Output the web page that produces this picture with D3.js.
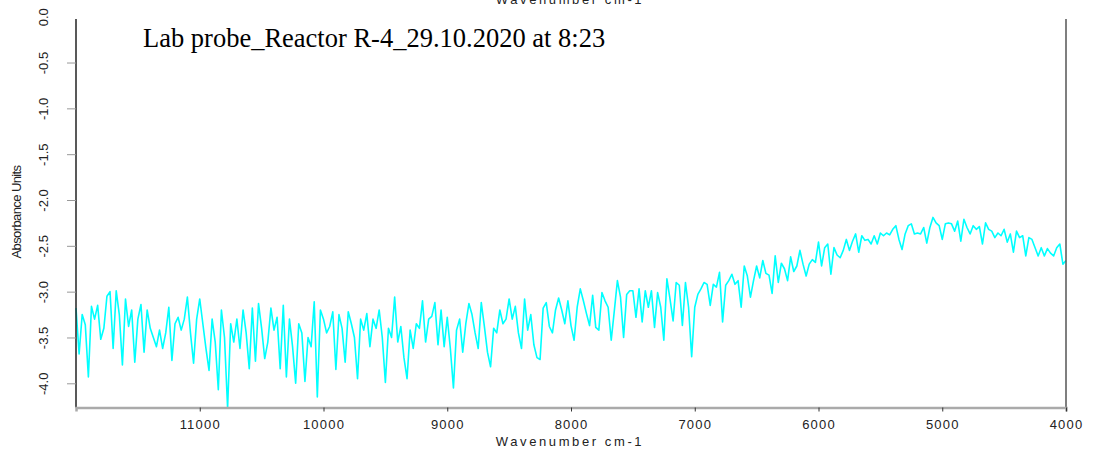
<!DOCTYPE html>
<html>
<head>
<meta charset="utf-8">
<script src="https://cdn.jsdelivr.net/npm/d3@7"></script>
<style>
  body { margin: 0; background: #fff; }
</style>
</head>
<body>
<div id="chart"></div>
<script>
const width = 1093,
  height = 450,
  margin = { left: 76, right: 27, top: 19, bottom: 42 };

// spectrum sampled every 25 cm-1, from 12000 down to 4000
const waveStart = 12000;
const waveStep = 25;
const absorbance = [
  -3.18, -3.68, -3.25, -3.36, -3.93, -3.16, -3.3, -3.15, -3.52, -3.4, -3.05, -3.0, -3.62, -2.99, -3.25, -3.8, -3.08, -3.38, -3.2, -3.77,
  -3.3, -3.14, -3.66, -3.2, -3.4, -3.5, -3.6, -3.42, -3.62, -3.45, -3.17, -3.75, -3.35, -3.28, -3.42, -3.3, -3.06, -3.45, -3.78, -3.3,
  -3.08, -3.35, -3.62, -3.86, -3.3, -3.55, -4.07, -3.2, -3.5, -4.27, -3.35, -3.55, -3.3, -3.62, -3.2, -3.45, -3.84, -3.18, -3.76, -3.13,
  -3.4, -3.73, -3.55, -3.18, -3.42, -3.28, -3.84, -3.15, -3.93, -3.3, -3.6, -4.0, -3.35, -3.45, -3.98, -3.5, -3.6, -3.11, -4.15, -3.2,
  -3.3, -3.45, -3.38, -3.22, -3.85, -3.25, -3.4, -3.77, -3.22, -3.35, -3.5, -3.95, -3.3, -3.42, -3.24, -3.6, -3.3, -3.4, -3.2, -3.5,
  -3.99, -3.4, -3.5, -3.06, -3.55, -3.38, -3.72, -3.95, -3.42, -3.62, -3.35, -3.4, -3.1, -3.55, -3.3, -3.27, -3.12, -3.58, -3.2, -3.6,
  -3.28, -3.62, -4.05, -3.42, -3.3, -3.66, -3.35, -3.13, -3.25, -3.45, -3.62, -3.12, -3.38, -3.66, -3.82, -3.4, -3.45, -3.2, -3.35, -3.3,
  -3.08, -3.3, -3.16, -3.45, -3.62, -3.08, -3.42, -3.25, -3.58, -3.72, -3.74, -3.18, -3.12, -3.38, -3.45, -3.2, -3.07, -3.2, -3.35, -3.1,
  -3.37, -3.53, -3.17, -2.97, -3.1, -3.24, -3.37, -3.04, -3.39, -3.42, -3.01, -3.1, -3.17, -3.53, -3.21, -2.88, -3.06, -3.5, -3.03, -2.99,
  -2.99, -3.28, -2.97, -3.33, -2.99, -3.17, -2.99, -3.39, -3.01, -3.17, -3.53, -2.86, -3.08, -3.32, -2.9, -2.93, -3.37, -2.9, -3.17, -3.71,
  -3.17, -3.03, -2.97, -2.9, -2.92, -3.15, -2.92, -2.95, -2.79, -3.33, -2.93, -2.88, -2.81, -2.92, -2.88, -3.17, -2.72, -2.83, -3.06, -2.88,
  -2.72, -2.85, -2.66, -2.8, -2.82, -3.02, -2.61, -2.9, -2.69, -2.75, -2.88, -2.62, -2.78, -2.72, -2.55, -2.7, -2.83, -2.7, -2.65, -2.68,
  -2.46, -2.72, -2.52, -2.48, -2.81, -2.52, -2.6, -2.63, -2.55, -2.43, -2.55, -2.45, -2.37, -2.57, -2.39, -2.44, -2.43, -2.48, -2.39, -2.48,
  -2.36, -2.39, -2.36, -2.38, -2.32, -2.28, -2.43, -2.54, -2.37, -2.28, -2.26, -2.37, -2.36, -2.37, -2.3, -2.47, -2.3, -2.19, -2.25, -2.28,
  -2.43, -2.26, -2.25, -2.26, -2.34, -2.23, -2.45, -2.21, -2.3, -2.37, -2.28, -2.32, -2.29, -2.48, -2.25, -2.32, -2.34, -2.41, -2.36, -2.39,
  -2.32, -2.46, -2.37, -2.57, -2.34, -2.41, -2.39, -2.61, -2.41, -2.43, -2.52, -2.61, -2.52, -2.61, -2.53, -2.58, -2.61, -2.52, -2.48, -2.7,
  -2.66
];
const wavenumbers = absorbance.map((d, i) => waveStart - i * waveStep);

const xTicks = [11000, 10000, 9000, 8000, 7000, 6000, 5000, 4000];
const yTicks = [0, -0.5, -1, -1.5, -2, -2.5, -3, -3.5, -4];

const title = "Lab probe_Reactor R-4_29.10.2020 at 8:23";
const xLabel = "Wavenumber cm-1";
const yLabel = "Absorbance Units";

const xScale = d3
  .scaleLinear()
  .domain([12000, 4000])
  .range([margin.left, width - margin.right]);

const yScale = d3.scaleLinear().domain([0, -4]).range([16.7, 383.3]);

const svg = d3
  .select("#chart")
  .append("svg")
  .attr("width", width)
  .attr("height", height)
  .style("font-family", "'Liberation Sans', Arial, sans-serif");

// the spectrum
const line = d3
  .line()
  .x((d, i) => xScale(wavenumbers[i]))
  .y((d) => yScale(d));

svg
  .append("path")
  .datum(absorbance)
  .attr("fill", "none")
  .attr("stroke", "#00ffff")
  .attr("stroke-width", 1.6)
  .attr("stroke-linejoin", "round")
  .attr("d", line);

// frame lines
const plotBottom = height - margin.bottom + 0.5 - 1;
svg
  .append("line")
  .attr("x1", margin.left)
  .attr("x2", margin.left)
  .attr("y1", margin.top)
  .attr("y2", plotBottom)
  .attr("stroke", "#222")
  .attr("stroke-width", 1.5);

svg
  .append("line")
  .attr("x1", width - margin.right)
  .attr("x2", width - margin.right)
  .attr("y1", margin.top)
  .attr("y2", plotBottom)
  .attr("stroke", "#555")
  .attr("stroke-width", 1.5);

// x axis
const xAxis = svg
  .append("g")
  .attr("transform", `translate(0,${plotBottom})`)
  .call(d3.axisBottom(xScale).tickValues(xTicks).tickSize(4).tickPadding(8).tickFormat(d3.format("d")));

xAxis.select(".domain").attr("stroke", "#aaa").attr("stroke-width", 2.5);
xAxis.selectAll(".tick line").attr("stroke", "#333");
xAxis
  .selectAll(".tick text")
  .attr("font-size", 13)
  .attr("letter-spacing", "1.2px")
  .attr("fill", "#222");

// y axis
const yAxis = svg
  .append("g")
  .attr("transform", `translate(${margin.left},0)`)
  .call(d3.axisLeft(yScale).tickValues(yTicks).tickSize(9).tickFormat(d3.format(".1f")));

yAxis.select(".domain").remove();
yAxis.selectAll(".tick line").attr("stroke", "#999");
yAxis.select(".tick line").remove(); // the 0.0 tick sits above the frame
yAxis
  .selectAll(".tick text")
  .text((d) => d3.format(".1f")(d).replace("−", "-"))
  .attr("x", null)
  .attr("dy", null)
  .attr("text-anchor", "middle")
  .attr("transform", "translate(-28,0) rotate(-90)")
  .attr("font-size", 13)
  .attr("fill", "#222");

svg
  .append("text")
  .attr("transform", `translate(21,212) rotate(-90)`)
  .attr("text-anchor", "middle")
  .attr("font-size", 13)
  .attr("letter-spacing", "-0.6px")
  .attr("fill", "#222")
  .text(yLabel);

// axis titles, the top one is cut by the frame of the figure
svg
  .append("text")
  .attr("x", 570)
  .attr("y", 446)
  .attr("text-anchor", "middle")
  .attr("font-size", 13)
  .attr("letter-spacing", "2.6px")
  .attr("fill", "#222")
  .text(xLabel);

svg
  .append("text")
  .attr("x", 570)
  .attr("y", 4)
  .attr("text-anchor", "middle")
  .attr("font-size", 13)
  .attr("letter-spacing", "2.6px")
  .attr("fill", "#222")
  .text(xLabel);

svg
  .append("text")
  .attr("x", 143)
  .attr("y", 47)
  .attr("font-family", "'Liberation Serif', 'Times New Roman', serif")
  .attr("font-size", 26.5)
  .attr("fill", "#000")
  .text(title);
</script>
</body>
</html>
